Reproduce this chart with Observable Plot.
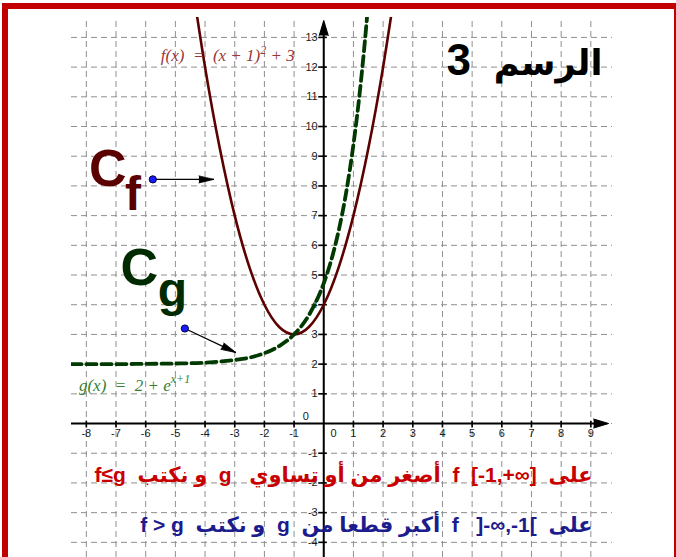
<!DOCTYPE html>
<html>
<head>
<meta charset="utf-8">
<script src="https://cdn.jsdelivr.net/npm/d3@7"></script>
<script src="https://cdn.jsdelivr.net/npm/@observablehq/plot@0.6"></script>
<style>
  html, body { margin: 0; padding: 0; background: #fff; }
  #wrap { position: relative; width: 676px; height: 557px; overflow: hidden; }
  #chart { position: absolute; left: 0; top: 0; }
  #frame {
    position: absolute; left: 2px; top: 3px; width: 666px; height: 600px;
    border-top: 6px solid #c20000; border-left: 6px solid #c20000; border-right: 2px solid #c20000;
    pointer-events: none;
  }
</style>
</head>
<body>
<div id="wrap"><div id="chart"></div><div id="frame"></div></div>
<script>
// Visible window of the coordinate plane
const xView = [-8.5, 9.73];
const yView = [-4.51, 13.67];

// Grid lines and tick labels
const gridX = [-8, -7, -6, -5, -4, -3, -2, -1, 0, 1, 2, 3, 4, 5, 6, 7, 8, 9];
const gridY = [-4, -3, -2, -1, 0, 1, 2, 3, 4, 5, 6, 7, 8, 9, 10, 11, 12, 13];
const xTickLabels = [-8, -7, -6, -5, -4, -3, -2, -1, 1, 2, 3, 4, 5, 6, 7, 8, 9];
const yTickLabels = [-4, -3, -2, -1, 1, 2, 3, 4, 5, 6, 7, 8, 9, 10, 11, 12, 13];

// Curve C_f : f(x) = (x+1)^2 + 3
const fX = [-4.5, -4, -3.5, -3, -2.5, -2, -1.5, -1, -0.5, 0, 0.5, 1, 1.5, 2, 2.5];
const fY = [15.25, 12, 9.25, 7, 5.25, 4, 3.25, 3, 3.25, 4, 5.25, 7, 9.25, 12, 15.25];

// Curve C_g : g(x) = 2 + e^(x+1)
const gX = [-8.5, -8, -7, -6, -5, -4, -3, -2.5, -2, -1.5, -1, -0.5, 0, 0.25, 0.5, 0.75, 1, 1.25, 1.5, 1.75];
const gY = [2.0, 2.0, 2.0, 2.01, 2.02, 2.05, 2.14, 2.22, 2.37, 2.61, 3.0, 3.65, 4.72, 5.49, 6.48, 7.75, 9.39, 11.49, 14.18, 17.64];

// Pointers from the curve names to the curves
const pointers = [
  {name: "f", x1: -5.76, y1: 8.22, x2: -3.70, y2: 8.22},
  {name: "g", x1: -4.68, y1: 3.20, x2: -2.96, y2: 2.39}
];

// Curve names (C with subscript)
const curveNames = [
  {main: "C", sub: "f", x: -7.91, y: 8.01, subX: -6.70, subY: 7.20, color: "#5a0000"},
  {main: "C", sub: "g", x: -6.85, y: 4.65, subX: -5.59, subY: 3.97, color: "#002a00"}
];

// Title: word and number
const titleWord = "الرسم";
const titleNumber = "3";
const lineLE = "f≤g  و نكتب  g   أصغر من أو تساوي  f  [-1,+∞]  على";
const lineGT = "f > g  و نكتب  g  أكبر قطعا من  f   ]-∞,-1[  على";

const fCurve = fX.map((x, i) => ({x, y: fY[i]}));
const gCurve = gX.map((x, i) => ({x, y: gY[i]}));
const deg = (p) => Math.atan2(p.x2 - p.x1, p.y2 - p.y1) * 180 / Math.PI;

const sans = "Liberation Sans, Arial, DejaVu Sans, sans-serif";
const serif = "Liberation Serif, DejaVu Serif, serif";

const chart = Plot.plot({
  width: 676,
  height: 557,
  marginLeft: 71,
  marginRight: 64,
  marginTop: 17,
  marginBottom: 0,
  x: {domain: xView, axis: null},
  y: {domain: yView, axis: null},
  style: {background: "transparent", fontFamily: sans},
  marks: [
    // dashed grid
    Plot.ruleX(gridX, {x: d => d, y1: yView[0], y2: yView[1], stroke: "#8f8f8f", strokeWidth: 1, strokeDasharray: "6,4"}),
    Plot.ruleY(gridY, {y: d => d, x1: xView[0], x2: xView[1], stroke: "#8f8f8f", strokeWidth: 1, strokeDasharray: "6,4"}),

    // axes with arrowheads
    Plot.ruleY([0], {x1: xView[0], x2: 9.2, stroke: "#000", strokeWidth: 2}),
    Plot.ruleX([0], {y1: yView[0], y2: 13.2, stroke: "#000", strokeWidth: 2}),
    Plot.vector([{x: 9.6, y: 0, a: 90}, {x: 0, y: 13.57, a: 0}], {
      x: "x", y: "y", rotate: "a", length: 15, r: 4.5, shape: "spike", anchor: "end",
      fill: "#000", stroke: "#000", strokeWidth: 1
    }),

    // tick marks
    Plot.ruleX(xTickLabels, {x: d => d, y1: -0.15, y2: 0.08, stroke: "#000", strokeWidth: 1.6}),
    Plot.ruleY(yTickLabels, {y: d => d, x1: -0.17, x2: 0.12, stroke: "#000", strokeWidth: 1.6}),

    // tick labels
    Plot.text(xTickLabels, {x: d => d, y: -0.35, text: d => String(d), fontSize: 11, fill: "#1a1a1a"}),
    Plot.text([0], {x: 0.33, y: -0.35, text: d => String(d), fontSize: 11, fill: "#1a1a1a"}),
    Plot.text(yTickLabels, {x: -0.17, y: d => d, text: d => String(d), textAnchor: "end", dx: -1, fontSize: 11, fill: "#1a1a1a"}),
    Plot.text([0], {x: -0.5, y: 0.24, text: d => String(d), textAnchor: "end", fontSize: 11, fill: "#1a1a1a"}),

    // the two curves
    Plot.line(fCurve, {x: "x", y: "y", curve: "natural", stroke: "#5c0000", strokeWidth: 2.6, clip: true}),
    Plot.line(gCurve, {x: "x", y: "y", curve: "monotone-x", stroke: "#003a00", strokeWidth: 3.8, strokeDasharray: "10,5", clip: true}),

    // equations
    Plot.text(["f(x)  =  (x + 1)"], {x: -5.49, y: 12.2, text: d => d, textAnchor: "start", lineAnchor: "bottom",
      fontSize: 17, fontStyle: "italic", fontFamily: serif, fill: "#983838"}),
    Plot.text(["g(x)  =  2 + e"], {x: -8.25, y: 1.11, text: d => d, textAnchor: "start", lineAnchor: "bottom",
      fontSize: 17, fontStyle: "italic", fontFamily: serif, fill: "#357f35"}),

    // curve names
    Plot.text(curveNames, {x: "x", y: "y", text: "main", fill: "color", textAnchor: "start", lineAnchor: "bottom",
      fontSize: 52, fontWeight: "bold"}),
    Plot.text(curveNames, {x: "subX", y: "subY", text: "sub", fill: "color", textAnchor: "start", lineAnchor: "bottom",
      fontSize: 48, fontWeight: "bold"}),

    // pointers
    Plot.link(pointers, {x1: "x1", y1: "y1", x2: "x2", y2: "y2", stroke: "#000", strokeWidth: 1.3}),
    Plot.vector(pointers, {x: "x2", y: "y2", rotate: deg, length: 15, r: 3.5, shape: "spike", anchor: "end",
      fill: "#000", stroke: "#000", strokeWidth: 0.8}),
    Plot.dot(pointers, {x: "x1", y: "y1", r: 3.6, fill: "#1a1aff", stroke: "#000033", strokeWidth: 1}),

    // title
    Plot.text([titleWord], {x: 9.39, y: 11.72, text: d => d, textAnchor: "end", lineAnchor: "bottom",
      fontSize: 35, fontWeight: "bold", fill: "#000"}),
    Plot.text([titleNumber], {x: 4.14, y: 11.72, text: d => d, textAnchor: "start", lineAnchor: "bottom",
      fontSize: 44, fontWeight: "bold", fill: "#000"}),

    // comparison statements
    Plot.text([lineLE], {x: 9.06, y: -1.74, text: d => d, textAnchor: "end", fontSize: 21, fontWeight: "bold", fill: "#c80000"}),
    Plot.text([lineGT], {x: 9.06, y: -3.42, text: d => d, textAnchor: "end", fontSize: 21, fontWeight: "bold", fill: "#1c1c8c"})
  ]
});

// superscripts in the equations
d3.select(chart).selectAll("text").each(function() {
  const t = d3.select(this);
  const s = this.textContent;
  if (s === "f(x)  =  (x + 1)") {
    t.append("tspan").attr("dy", -7).attr("font-size", 12).text("2");
    t.append("tspan").attr("dy", 7).text(" + 3");
  } else if (s === "g(x)  =  2 + e") {
    t.append("tspan").attr("dy", -8).attr("font-size", 12).text("x+1");
  }
});

document.getElementById("chart").appendChild(chart);
</script>
</body>
</html>
